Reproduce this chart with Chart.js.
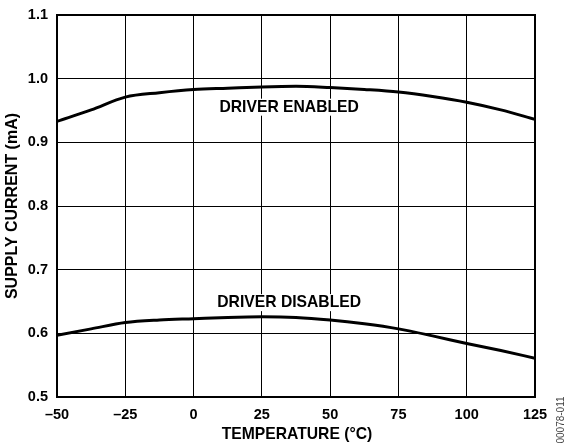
<!DOCTYPE html>
<html>
<head>
<meta charset="utf-8">
<script src="https://cdn.jsdelivr.net/npm/chart.js@4"></script>
<style>
html,body{margin:0;padding:0;background:#fff;}
</style>
</head>
<body>
<canvas id="c" width="566" height="444"></canvas>
<script>
const temps = [-50, -37.5, -25, -12.5, 0, 12.5, 25, 37.5, 50, 62.5, 75, 87.5, 100, 112.5, 125];
const enabledCurrent = [0.933, 0.951, 0.971, 0.978, 0.983, 0.985, 0.987, 0.988, 0.986, 0.983, 0.979, 0.972, 0.963, 0.951, 0.936];
const disabledCurrent = [0.597, 0.607, 0.617, 0.621, 0.623, 0.625, 0.626, 0.625, 0.621, 0.615, 0.607, 0.596, 0.584, 0.573, 0.561];
const xTicks = [-50, -25, 0, 25, 50, 75, 100, 125];
const yTicks = [0.5, 0.6, 0.7, 0.8, 0.9, 1.0, 1.1];
const curveLabels = [
  {text: 'DRIVER ENABLED', x: 35, y: 0.956},
  {text: 'DRIVER DISABLED', x: 35, y: 0.649}
];
const xTitle = 'TEMPERATURE (°C)';
const yTitle = 'SUPPLY CURRENT (mA)';
const figCode = '00078-011';

const FONT = '"Liberation Sans", Arial, sans-serif';

const pts = arr => temps.map((t, i) => ({x: t, y: arr[i]}));

const decor = {
  id: 'decor',
  afterDatasetsDraw(chart) {
    const ctx = chart.ctx;
    const a = chart.chartArea;
    const xs = chart.scales.x, ys = chart.scales.y;
    ctx.save();
    // curve labels with white background
    ctx.font = 'bold 15.7px ' + FONT;
    ctx.textAlign = 'center';
    ctx.textBaseline = 'middle';
    curveLabels.forEach(l => {
      const px = xs.getPixelForValue(l.x), py = ys.getPixelForValue(l.y);
      const w = ctx.measureText(l.text).width;
      ctx.fillStyle = '#fff';
      ctx.fillRect(px - w / 2 - 3, py - 8, w + 6, 17);
      ctx.fillStyle = '#000';
      ctx.fillText(l.text, px, py + 1);
    });
    // frame
    ctx.strokeStyle = '#000';
    ctx.lineWidth = 2;
    ctx.strokeRect(a.left, a.top, a.right - a.left, a.bottom - a.top);
    // axis titles
    ctx.fillStyle = '#000';
    ctx.textAlign = 'center';
    ctx.textBaseline = 'middle';
    ctx.font = 'bold 15.7px ' + FONT;
    ctx.fillText(xTitle, 297, 435);
    ctx.save();
    ctx.font = 'bold 16px ' + FONT;
    ctx.translate(13, 206);
    ctx.rotate(-Math.PI / 2);
    ctx.fillText(yTitle, 0, 0);
    ctx.restore();
    // figure code
    ctx.save();
    ctx.font = '10px ' + FONT;
    ctx.fillStyle = '#444';
    ctx.translate(561, 420);
    ctx.rotate(-Math.PI / 2);
    ctx.fillText(figCode, 0, 0);
    ctx.restore();
    ctx.restore();
  }
};

new Chart(document.getElementById('c'), {
  type: 'line',
  data: {
    datasets: [
      {data: pts(enabledCurrent), borderColor: '#000', borderWidth: 3, pointRadius: 0, tension: 0.4, cubicInterpolationMode: 'monotone', fill: false},
      {data: pts(disabledCurrent), borderColor: '#000', borderWidth: 3, pointRadius: 0, tension: 0.4, cubicInterpolationMode: 'monotone', fill: false}
    ]
  },
  options: {
    responsive: false,
    animation: false,
    devicePixelRatio: 1,
    layout: {padding: {top: 15, right: 31, left: 0, bottom: 0}},
    plugins: {legend: {display: false}, tooltip: {enabled: false}},
    scales: {
      x: {
        type: 'linear', min: -50, max: 125,
        afterBuildTicks: s => { s.ticks = xTicks.map(v => ({value: v})); },
        afterFit: s => { s.height = 47; s.paddingLeft = 0; s.paddingRight = 0; },
        grid: {color: '#000', lineWidth: 1, drawTicks: false},
        border: {display: false},
        ticks: {color: '#000', font: {family: FONT, weight: 'bold', size: 14.5}, padding: 9,
          callback: v => v < 0 ? '\u2013' + Math.abs(v) : String(v), maxRotation: 0}
      },
      y: {
        type: 'linear', min: 0.5, max: 1.1,
        afterBuildTicks: s => { s.ticks = yTicks.map(v => ({value: v})); },
        afterFit: s => { s.width = 57; s.paddingTop = 0; s.paddingBottom = 0; },
        grid: {color: '#000', lineWidth: 1, drawTicks: false},
        border: {display: false},
        ticks: {color: '#000', font: {family: FONT, weight: 'bold', size: 14.5}, padding: 9,
          callback: v => v.toFixed(1)}
      }
    }
  },
  plugins: [decor]
});
</script>
</body>
</html>
